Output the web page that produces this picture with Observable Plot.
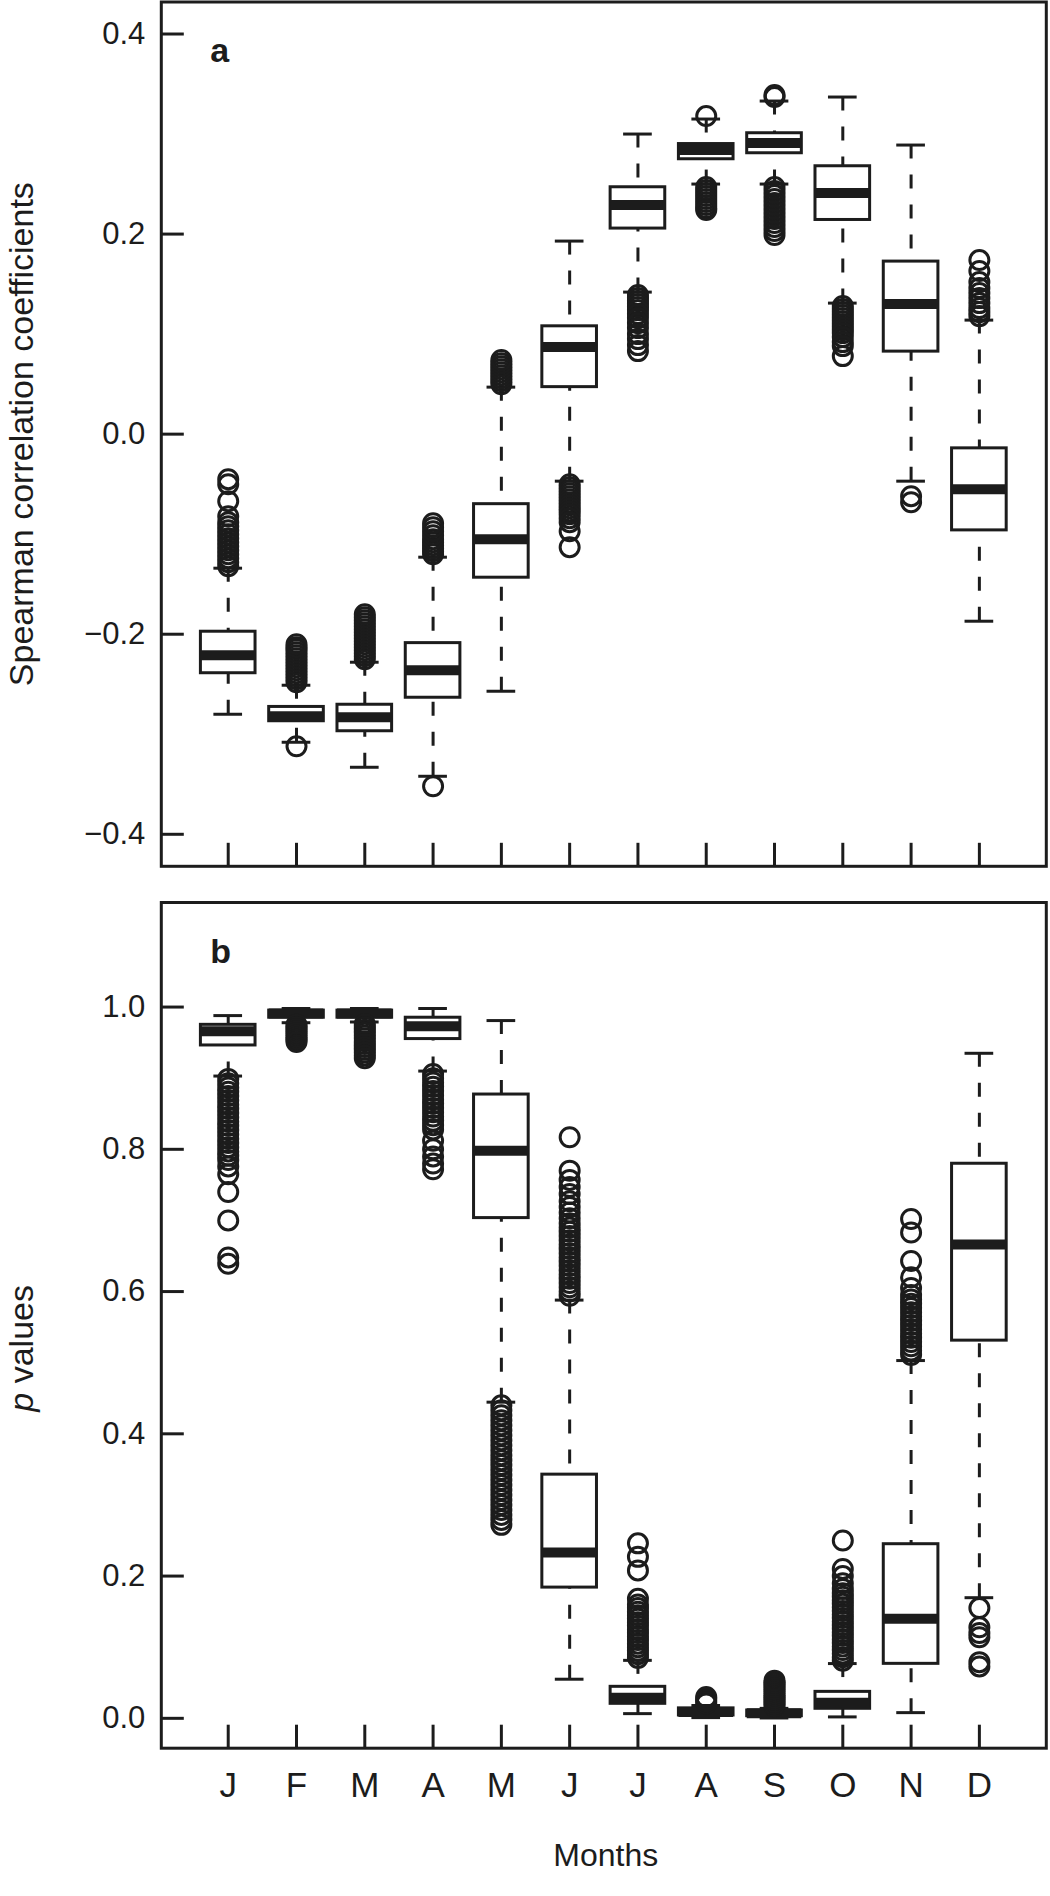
<!DOCTYPE html>
<html><head><meta charset="utf-8">
<script src="https://cdn.jsdelivr.net/npm/d3@7"></script>
<script src="https://cdn.jsdelivr.net/npm/@observablehq/plot@0.6"></script>
<style>
html,body{margin:0;padding:0;background:#fff;}
#chart{width:1050px;}
#chart svg{display:block;}
</style></head><body><div id="chart"></div>
<script>
// ---------- data ----------
const months = ["J","F","M","A","M","J","J","A","S","O","N","D"];

// (a) Spearman correlation coefficients
const rhoTicks  = [-0.4, -0.2, 0, 0.2, 0.4];
const rhoLow    = [-0.280, -0.308, -0.333, -0.342, -0.257, -0.047, 0.142, 0.250, 0.250, 0.131, -0.047, -0.187];
const rhoQ1     = [-0.239, -0.287, -0.297, -0.2635, -0.1435, 0.047, 0.2055, 0.2748, 0.2808, 0.2141, 0.0825, -0.0962];
const rhoMedian = [-0.221, -0.282, -0.283, -0.236, -0.105, 0.087, 0.229, 0.284, 0.291, 0.241, 0.130, -0.055];
const rhoQ3     = [-0.1975, -0.2727, -0.2705, -0.2089, -0.070, 0.1078, 0.2468, 0.290, 0.3008, 0.2678, 0.1725, -0.0142];
const rhoHigh   = [-0.134, -0.251, -0.228, -0.123, 0.047, 0.193, 0.300, 0.315, 0.333, 0.337, 0.289, 0.114];
const rhoOutliers = [
  [-0.132,-0.128,-0.124,-0.12,-0.116,-0.112,-0.108,-0.104,-0.1,-0.096,-0.092,-0.088,-0.082,-0.067,-0.05,-0.045],
  [-0.312,-0.248,-0.245,-0.242,-0.239,-0.236,-0.233,-0.23,-0.227,-0.224,-0.221,-0.218,-0.215,-0.213,-0.21],
  [-0.225,-0.222,-0.219,-0.216,-0.213,-0.21,-0.207,-0.204,-0.201,-0.198,-0.195,-0.192,-0.189,-0.186,-0.183,-0.18],
  [-0.352,-0.12,-0.117,-0.114,-0.111,-0.108,-0.105,-0.101,-0.097,-0.093,-0.089],
  [0.05,0.053,0.056,0.059,0.062,0.065,0.068,0.071,0.074],
  [-0.05,-0.053,-0.056,-0.059,-0.062,-0.065,-0.068,-0.071,-0.074,-0.077,-0.08,-0.084,-0.088,-0.097,-0.113],
  [0.139,0.136,0.133,0.13,0.127,0.124,0.12,0.116,0.111,0.106,0.1,0.095,0.089,0.083],
  [0.318,0.247,0.244,0.241,0.238,0.235,0.232,0.229,0.226,0.224],
  [0.337,0.339,0.247,0.243,0.239,0.235,0.231,0.227,0.223,0.219,0.215,0.211,0.207,0.203,0.199],
  [0.128,0.125,0.122,0.119,0.116,0.113,0.11,0.107,0.104,0.101,0.097,0.092,0.088,0.078],
  [-0.062,-0.068],
  [0.118,0.122,0.126,0.131,0.136,0.141,0.146,0.152,0.163,0.174]
];

// (b) p values
const pTicks  = [0, 0.2, 0.4, 0.6, 0.8, 1.0];
const pLow    = [0.903, 0.978, 0.979, 0.910, 0.4445, 0.055, 0.0066, 0.001, 0.0005, 0.002, 0.008, 0.1696];
const pQ1     = [0.946, 0.985, 0.985, 0.955, 0.7033, 0.1838, 0.0204, 0.004, 0.003, 0.0134, 0.0766, 0.531];
const pMedian = [0.966, 0.991, 0.991, 0.973, 0.798, 0.233, 0.029, 0.009, 0.007, 0.022, 0.140, 0.666];
const pQ3     = [0.975, 0.995, 0.995, 0.985, 0.877, 0.3426, 0.0443, 0.014, 0.011, 0.0372, 0.2448, 0.7797];
const pHigh   = [0.988, 0.998, 0.998, 0.998, 0.981, 0.588, 0.0815, 0.018, 0.014, 0.077, 0.503, 0.935];
const pOutliers = [
  [0.899,0.893,0.887,0.881,0.875,0.869,0.863,0.857,0.851,0.845,0.839,0.833,0.827,0.821,0.815,0.809,0.803,0.797,0.791,0.785,0.776,0.765,0.74,0.70,0.648,0.639],
  [0.975,0.972,0.969,0.966,0.963,0.96,0.957,0.954,0.951],
  [0.976,0.972,0.968,0.964,0.96,0.956,0.952,0.948,0.944,0.94,0.936,0.932,0.928],
  [0.906,0.9,0.894,0.888,0.882,0.876,0.87,0.864,0.858,0.852,0.846,0.84,0.834,0.828,0.812,0.8,0.79,0.78,0.772],
  [0.44,0.433,0.426,0.419,0.412,0.405,0.398,0.391,0.384,0.377,0.37,0.363,0.356,0.349,0.342,0.335,0.328,0.321,0.314,0.307,0.3,0.293,0.286,0.279,0.272],
  [0.594,0.6,0.606,0.612,0.618,0.624,0.63,0.636,0.642,0.648,0.654,0.66,0.666,0.672,0.678,0.684,0.69,0.696,0.703,0.711,0.719,0.727,0.737,0.747,0.757,0.77,0.817],
  [0.085,0.09,0.095,0.1,0.105,0.11,0.115,0.12,0.125,0.13,0.135,0.14,0.145,0.15,0.155,0.16,0.168,0.208,0.227,0.246],
  [0.021,0.024,0.027,0.03],
  [0.017,0.02,0.023,0.026,0.029,0.032,0.035,0.038,0.041,0.044,0.047,0.05,0.053],
  [0.081,0.086,0.091,0.096,0.101,0.106,0.111,0.116,0.121,0.126,0.131,0.136,0.141,0.146,0.151,0.156,0.161,0.166,0.171,0.176,0.182,0.19,0.2,0.21,0.25],
  [0.511,0.517,0.523,0.529,0.535,0.541,0.547,0.553,0.559,0.565,0.571,0.577,0.583,0.589,0.595,0.605,0.62,0.643,0.683,0.702],
  [0.155,0.128,0.12,0.114,0.079,0.073]
];

// ---------- drawing ----------
const INK = "#1c1c1c";
const FONT = "'Liberation Sans', Arial, Helvetica, sans-serif";
const W = 1050, mL = 160.8, mR = 4.2;
const BOX = 0.4, CAP = 0.21;
const idx = months.map((_, i) => i + 1);

function makeStats(lo, q1, med, q3, hi) {
  return months.map((m, i) => ({i: i + 1, lo: lo[i], q1: q1[i], med: med[i], q3: q3[i], hi: hi[i]}));
}
function makeOut(arrs) {
  return arrs.flatMap((a, i) => a.map(v => ({i: i + 1, v})));
}

function boxPanel({stats, outliers, ticks, domain, height, mT, mB, letter, letterDy, ylabel, ylabelDy, showX}) {
  const plotH = height - mT - mB, plotW = W - mL - mR;
  const line = {stroke: INK, strokeWidth: 3};
  const marks = [
    Plot.ruleX(stats, {x: "i", y1: "hi", y2: "q3", ...line, strokeDasharray: "14,16"}),
    Plot.ruleX(stats, {x: "i", y1: "lo", y2: "q1", ...line, strokeDasharray: "14,16"}),
    Plot.ruleY(stats, {x1: d => d.i - CAP, x2: d => d.i + CAP, y: "hi", ...line}),
    Plot.ruleY(stats, {x1: d => d.i - CAP, x2: d => d.i + CAP, y: "lo", ...line}),
    Plot.rect(stats, {x1: d => d.i - BOX, x2: d => d.i + BOX, y1: "q1", y2: "q3", fill: "white", ...line}),
    Plot.ruleY(stats, {x1: d => d.i - BOX, x2: d => d.i + BOX, y: "med", stroke: INK, strokeWidth: 10}),
    Plot.dot(outliers, {x: "i", y: "v", r: 9.5, fill: "none", ...line}),
    Plot.tickX(idx, {x: d => d, insetTop: plotH - 23, ...line}),
    Plot.tickY(ticks, {y: d => d, insetRight: plotW - 23, ...line}),
    Plot.axisY(ticks, {tickSize: 0, tickPadding: 16, tickFormat: d3.format(".1f"), fontSize: 31, fill: INK, label: null}),
    Plot.frame({stroke: INK, strokeWidth: 3}),
    Plot.text([letter], {text: d => d, frameAnchor: "top-left", dx: 49, dy: letterDy, lineAnchor: "bottom", textAnchor: "start", fontSize: 34, fontWeight: "bold", fill: INK}),
    Plot.text([ylabel], {text: d => d, frameAnchor: "left", dx: 32 - mL, dy: ylabelDy, rotate: -90, lineAnchor: "bottom", textAnchor: "middle", fontSize: 34, fill: INK})
  ];
  if (showX) {
    marks.push(Plot.axisX(idx, {tickSize: 0, tickPadding: 24, tickFormat: i => months[i - 1], fontSize: 35, fill: INK, label: null}));
    marks.push(Plot.text(["Months"], {text: d => d, frameAnchor: "bottom", dx: 2, dy: 117.3, lineAnchor: "bottom", textAnchor: "middle", fontSize: 32, fill: INK}));
  }
  return Plot.plot({
    width: W, height,
    marginLeft: mL, marginRight: mR, marginTop: mT, marginBottom: mB,
    style: {fontFamily: FONT, background: "white", color: INK},
    x: {domain: [0.02, 12.98], axis: null},
    y: {domain, axis: null},
    marks
  });
}

const chart = document.getElementById("chart");
const svgA = boxPanel({
  stats: makeStats(rhoLow, rhoQ1, rhoMedian, rhoQ3, rhoHigh),
  outliers: makeOut(rhoOutliers),
  ticks: rhoTicks, domain: [-0.432, 0.432],
  height: 880, mT: 1.5, mB: 14.2,
  letter: "a", letterDy: 59.5,
  ylabel: "Spearman correlation coefficients", ylabelDy: 0, showX: false
});
const svgB = boxPanel({
  stats: makeStats(pLow, pQ1, pMedian, pQ3, pHigh),
  outliers: makeOut(pOutliers),
  ticks: pTicks, domain: [-0.042, 1.147],
  height: 1016, mT: 22, mB: 148.3,
  letter: "b", letterDy: 60.7,
  ylabel: "p values", ylabelDy: 23, showX: true
});
chart.appendChild(svgA);
chart.appendChild(svgB);

// italic "p" in the y label of panel b
for (const t of svgB.querySelectorAll("text")) {
  if (t.textContent === "p values") {
    t.textContent = "";
    const ns = "http://www.w3.org/2000/svg";
    const a = document.createElementNS(ns, "tspan");
    a.setAttribute("font-style", "italic");
    a.textContent = "p";
    const b = document.createElementNS(ns, "tspan");
    b.textContent = "\u00a0values";
    t.appendChild(a); t.appendChild(b);
  }
}
</script>
</body></html>
